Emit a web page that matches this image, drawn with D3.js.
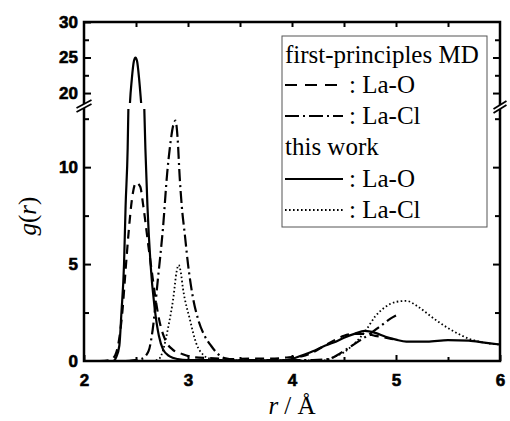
<!DOCTYPE html>
<html>
<head>
<meta charset="utf-8">
<script src="https://cdn.jsdelivr.net/npm/d3@7"></script>
<style>
  body { margin: 0; background: #fff; }
  .tick line { stroke: #000; stroke-width: 2; }
</style>
</head>
<body>
<div id="chart"></div>
<script>
// g(r) curves (r in Angstrom)
var mdLaO_r = [2.15, 2.25, 2.3, 2.34, 2.37, 2.40, 2.43, 2.46, 2.5, 2.54, 2.57, 2.62, 2.65, 2.68, 2.72, 2.78, 2.85, 2.95, 3.05, 3.2, 3.4, 3.6, 3.8, 3.95, 4.1, 4.2, 4.3, 4.4, 4.5, 4.6, 4.7, 4.8, 4.9, 5.0]
var mdLaO_g = [0, 0.05, 0.3, 1.2, 2.6, 4.7, 6.7, 8.3, 9.2, 9.0, 8.0, 5.9, 4.7, 3.5, 2.2, 1.1, 0.6, 0.35, 0.2, 0.15, 0.1, 0.12, 0.12, 0.18, 0.25, 0.45, 0.75, 1.05, 1.3, 1.4, 1.4, 1.3, 1.2, 1.1]

var mdLaCl_r = [2.4, 2.55, 2.62, 2.66, 2.71, 2.76, 2.8, 2.83, 2.86, 2.88, 2.9, 2.92, 2.94, 2.97, 3.0, 3.04, 3.1, 3.16, 3.22, 3.28, 3.35, 3.5, 3.8, 4.0, 4.2, 4.35, 4.45, 4.55, 4.65, 4.75, 4.85, 4.95, 5.0]
var mdLaCl_g = [0, 0.1, 0.5, 1.6, 4.2, 6.9, 9.7, 11.2, 12.2, 12.4, 11.5, 9.5, 8.0, 6.5, 5.0, 3.5, 2.1, 1.3, 0.8, 0.4, 0.15, 0.05, 0.05, 0.05, 0.05, 0.1, 0.35, 0.7, 1.05, 1.4, 1.8, 2.2, 2.35]

var twLaO_r = [2.0, 2.28, 2.31, 2.34, 2.36, 2.385, 2.40, 2.42, 2.43, 2.44, 2.46, 2.48, 2.495, 2.51, 2.53, 2.55, 2.575, 2.59, 2.61, 2.64, 2.68, 2.72, 2.76, 2.82, 2.9, 3.0, 3.3, 3.6, 3.9, 4.0, 4.1, 4.2, 4.3, 4.4, 4.5, 4.6, 4.7, 4.8, 4.9, 5.0, 5.1, 5.3, 5.5, 5.7, 5.85, 6.0]
var twLaO_g = [0, 0, 0.2, 0.8, 2.5, 5, 8, 11, 14, 18, 22, 24.5, 25, 24.5, 22, 18.5, 14, 11, 8, 5, 2.7, 1.3, 0.6, 0.25, 0.1, 0.05, 0.05, 0.02, 0.03, 0.1, 0.3, 0.5, 0.75, 0.95, 1.2, 1.4, 1.55, 1.45, 1.25, 1.1, 1.0, 1.0, 1.08, 1.05, 0.95, 0.85]

var twLaCl_r = [2.0, 2.65, 2.72, 2.76, 2.81, 2.86, 2.89, 2.91, 2.93, 2.95, 3.02, 3.08, 3.15, 3.22, 3.3, 4.3, 4.4, 4.5, 4.6, 4.7, 4.8, 4.9, 5.0, 5.1, 5.2, 5.3, 5.4, 5.5, 5.6, 5.7, 5.8, 5.9, 6.0]
var twLaCl_g = [0, 0, 0.1, 0.55, 1.75, 3.3, 4.6, 4.95, 4.6, 3.8, 2.1, 0.9, 0.3, 0.1, 0.03, 0.03, 0.2, 0.45, 0.9, 1.5, 2.3, 2.8, 3.05, 3.1, 2.85, 2.45, 2.05, 1.7, 1.4, 1.15, 1.0, 0.9, 0.85]

var xTicks = [2, 3, 4, 5, 6]
var yTicksLow = [0, 5, 10]
var yTicksHigh = [20, 25, 30]
var legendHead1 = 'first-principles MD'
var legendHead2 = 'this work'

var W = 510, H = 421
var L = 84, R = 500, T = 22, B = 361

var svg = d3.select('#chart').append('svg').attr('width', W).attr('height', H)

var x = d3.scaleLinear().domain([2, 6]).range([L, R])
var yLow = d3.scaleLinear().domain([0, 13]).range([B, 109])
var yHigh = d3.scaleLinear().domain([18.6, 30]).range([103, T])

// clip panels
var defs = svg.append('defs')
defs.append('clipPath').attr('id', 'clipLow').append('rect')
  .attr('x', L).attr('y', yLow(13)).attr('width', R - L).attr('height', B - yLow(13))
defs.append('clipPath').attr('id', 'clipHigh').append('rect')
  .attr('x', L).attr('y', T).attr('height', yHigh(18.6) - T).attr('width', R - L)

var series = [
  { r: mdLaO_r, g: mdLaO_g, dash: '9,6' },
  { r: mdLaCl_r, g: mdLaCl_g, dash: '12,4,2,4' },
  { r: twLaO_r, g: twLaO_g, dash: null },
  { r: twLaCl_r, g: twLaCl_g, dash: '1.6,2.4' }
]

function drawSeries (y, clip) {
  var grp = svg.append('g').attr('clip-path', 'url(#' + clip + ')')
  series.forEach(function (s) {
    var pts = s.r.map(function (d, i) { return [d, s.g[i]] })
    var line = d3.line()
      .x(function (d) { return x(d[0]) })
      .y(function (d) { return y(d[1]) })
      .curve(d3.curveMonotoneX)
    grp.append('path')
      .attr('d', line(pts))
      .attr('fill', 'none')
      .attr('stroke', '#000')
      .attr('stroke-width', s.dash === '1.6,2.4' ? 1.8 : 2.2)
      .attr('stroke-dasharray', s.dash)
  })
}
drawSeries(yLow, 'clipLow')
drawSeries(yHigh, 'clipHigh')

// axes (ticks point inward)
function styleLabels (g) {
  g.selectAll('.tick text')
    .attr('font-family', '"Liberation Sans", Arial, sans-serif')
    .attr('font-weight', 'bold')
    .attr('font-size', 17)
    .attr('fill', '#000')
    .attr('stroke', '#000')
    .attr('stroke-width', 0.6)
}

svg.append('g').attr('transform', 'translate(0,' + B + ')')
  .call(d3.axisBottom(x).tickValues(xTicks).tickSize(-6).tickPadding(13).tickFormat(d3.format('d')))
  .call(styleLabels)
svg.append('g').attr('transform', 'translate(0,' + B + ')')
  .call(d3.axisBottom(x).tickValues([2.5, 3.5, 4.5, 5.5]).tickSize(-4).tickFormat(''))
svg.append('g').attr('transform', 'translate(0,' + T + ')')
  .call(d3.axisTop(x).tickValues([2.5, 3, 3.5, 4, 4.5, 5, 5.5]).tickSize(-5).tickFormat(''))

svg.append('g').attr('transform', 'translate(' + L + ',0)')
  .call(d3.axisLeft(yLow).tickValues(yTicksLow.slice(1)).tickSize(-7).tickPadding(6))
  .call(styleLabels)
svg.append('g').attr('transform', 'translate(' + L + ',0)')
  .call(d3.axisLeft(yLow).tickValues([0]).tickSize(0).tickPadding(6))
  .call(styleLabels)
svg.append('g').attr('transform', 'translate(' + L + ',0)')
  .call(d3.axisLeft(yLow).tickValues([2.5, 7.5, 12.5]).tickSize(-5).tickFormat(''))
svg.append('g').attr('transform', 'translate(' + L + ',0)')
  .call(d3.axisLeft(yHigh).tickValues(yTicksHigh).tickSize(-7).tickPadding(6))
  .call(styleLabels)
svg.append('g').attr('transform', 'translate(' + L + ',0)')
  .call(d3.axisLeft(yHigh).tickValues([22.5, 27.5]).tickSize(-5).tickFormat(''))

svg.append('g').attr('transform', 'translate(' + R + ',0)')
  .call(d3.axisRight(yLow).tickValues([5, 10]).tickSize(-7).tickFormat(''))
svg.append('g').attr('transform', 'translate(' + R + ',0)')
  .call(d3.axisRight(yLow).tickValues([2.5, 7.5, 12.5]).tickSize(-5).tickFormat(''))
svg.append('g').attr('transform', 'translate(' + R + ',0)')
  .call(d3.axisRight(yHigh).tickValues([20, 25]).tickSize(-7).tickFormat(''))
svg.append('g').attr('transform', 'translate(' + R + ',0)')
  .call(d3.axisRight(yHigh).tickValues([22.5, 27.5]).tickSize(-5).tickFormat(''))

svg.selectAll('.domain').remove()

// frame
svg.append('rect').attr('x', L).attr('y', T).attr('width', R - L).attr('height', B - T)
  .attr('fill', 'none').attr('stroke', '#000').attr('stroke-width', 2.5)

// axis break marks
function breakMark (cx, cy, w) {
  var g = svg.append('g')
  g.append('polygon')
    .attr('points', [[cx - w, cy + 4], [cx + w, cy - 4], [cx + w, cy], [cx - w, cy + 8]].join(' '))
    .attr('fill', '#fff')
  g.append('line').attr('x1', cx - w).attr('y1', cy + 4).attr('x2', cx + w).attr('y2', cy - 4)
    .attr('stroke', '#000').attr('stroke-width', 1.8)
  g.append('line').attr('x1', cx - w).attr('y1', cy + 8).attr('x2', cx + w).attr('y2', cy)
    .attr('stroke', '#000').attr('stroke-width', 1.8)
}
breakMark(L, 104, 7.5)
breakMark(R, 105, 6.5)

// legend
var lg = svg.append('g')
lg.append('rect').attr('x', 282).attr('y', 36).attr('width', 205).attr('height', 191)
  .attr('fill', '#fff').attr('stroke', '#555').attr('stroke-width', 1)

var legendRows = [
  { text: legendHead1, y: 63 },
  { text: ': La-O', y: 93, dash: '12,8' },
  { text: ': La-Cl', y: 124, dash: '14,4,2,4' },
  { text: legendHead2, y: 155 },
  { text: ': La-O', y: 187, dash: 'solid' },
  { text: ': La-Cl', y: 218, dash: '1.6,2.4' }
]
legendRows.forEach(function (row) {
  var sample = row.dash !== undefined
  lg.append('text')
    .attr('x', sample ? 349 : 285).attr('y', row.y)
    .attr('font-family', '"Liberation Serif", "Times New Roman", serif')
    .attr('font-size', 25)
    .text(row.text)
  if (sample) {
    lg.append('line')
      .attr('x1', 285).attr('x2', 343).attr('y1', row.y - 8).attr('y2', row.y - 8)
      .attr('stroke', '#000').attr('stroke-width', row.dash === '1.6,2.4' ? 1.8 : 2.2)
      .attr('stroke-dasharray', row.dash === 'solid' ? null : row.dash)
  }
})

// axis titles
var serif = '"Liberation Serif", "Times New Roman", serif'
var xt = svg.append('text').attr('x', 292).attr('y', 414)
  .attr('text-anchor', 'middle').attr('font-family', serif).attr('font-size', 25)
xt.append('tspan').attr('font-style', 'italic').text('r')
xt.append('tspan').text(' / Å')

var yt = svg.append('text').attr('transform', 'translate(36,216) rotate(-90)')
  .attr('text-anchor', 'middle').attr('font-family', serif).attr('font-size', 25)
yt.append('tspan').attr('font-style', 'italic').text('g')
yt.append('tspan').text('(')
yt.append('tspan').attr('font-style', 'italic').text('r')
yt.append('tspan').text(')')
</script>
</body>
</html>
